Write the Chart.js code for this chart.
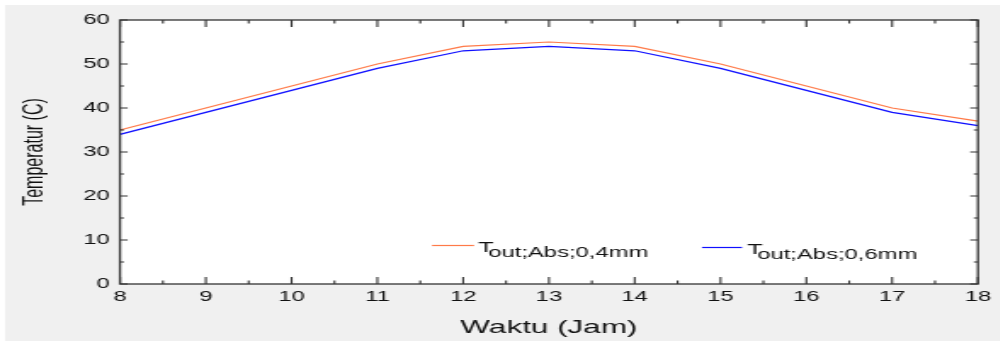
<!DOCTYPE html>
<html>
<head>
<meta charset="utf-8">
<script src="https://cdn.jsdelivr.net/npm/chart.js@4.4.1/dist/chart.umd.min.js"></script>
<style>
  html, body { margin: 0; padding: 0; background: #ffffff; overflow: hidden; }
  #wrap { position: absolute; left: 0; top: 0; transform-origin: 0 0; }
</style>
</head>
<body>
<div id="wrap"><canvas id="c"></canvas></div>
<script>
// ---- data ----
const hours = [8, 9, 10, 11, 12, 13, 14, 15, 16, 17, 18];
const tAbs04 = [35, 40, 45, 50, 54, 55, 54, 50, 45, 40, 37];
const tAbs06 = [34, 39, 44, 49, 53, 54, 53, 49, 44, 39, 36];
const yTicks = [0, 10, 20, 30, 40, 50, 60];
const xTicks = [8, 9, 10, 11, 12, 13, 14, 15, 16, 17, 18];
const seriesNames = ['out;Abs;0,4mm', 'out;Abs;0,6mm'];

// the reference is horizontally stretched; draw narrow and stretch
const S = 1.7;
const H = 343;
const W = 1000 / S;

const wrap = document.getElementById('wrap');
wrap.style.transform = 'scaleX(' + S + ')';
const canvas = document.getElementById('c');
canvas.style.width = W + 'px';
canvas.style.height = H + 'px';

const FONT = "'Liberation Sans', Arial, sans-serif";
const INK = '#111111';

const bgPlugin = {
  id: 'bg',
  beforeDraw(chart) {
    const ctx = chart.ctx;
    const a = chart.chartArea;
    ctx.save();
    ctx.fillStyle = '#ffffff';
    ctx.fillRect(0, 0, W, H);
    ctx.fillStyle = '#f0f0f0';
    ctx.fillRect(5 / S, 5, W, 336);
    ctx.fillStyle = '#ffffff';
    ctx.fillRect(a.left, a.top, a.right - a.left, a.bottom - a.top);
    ctx.restore();
  }
};

const framePlugin = {
  id: 'frame',
  afterDraw(chart) {
    const ctx = chart.ctx;
    const a = chart.chartArea;
    const xs = chart.scales.x, ys = chart.scales.y;
    ctx.save();
    ctx.strokeStyle = '#333333';
    ctx.lineWidth = 1.1;
    const xt = xs.ticks.map(t => t.value);
    for (let i = 0; i < xt.length; i++) {
      const marks = [[xt[i], 7]];
      if (i < xt.length - 1) marks.push([(xt[i] + xt[i + 1]) / 2, 3.5]);
      for (const [v, len] of marks) {
        const px = xs.getPixelForValue(v);
        ctx.beginPath();
        ctx.moveTo(px, a.bottom); ctx.lineTo(px, a.bottom - len);
        ctx.moveTo(px, a.top); ctx.lineTo(px, a.top + len);
        ctx.stroke();
      }
    }
    const yt = ys.ticks.map(t => t.value);
    for (let i = 0; i < yt.length; i++) {
      const marks = [[yt[i], 4.5]];
      if (i < yt.length - 1) marks.push([(yt[i] + yt[i + 1]) / 2, 2.4]);
      for (const [v, len] of marks) {
        const py = ys.getPixelForValue(v);
        ctx.beginPath();
        ctx.moveTo(a.left, py); ctx.lineTo(a.left + len, py);
        ctx.moveTo(a.right, py); ctx.lineTo(a.right - len, py);
        ctx.stroke();
      }
    }
    ctx.lineWidth = 1.3;
    ctx.strokeRect(a.left, a.top, a.right - a.left, a.bottom - a.top);
    ctx.restore();
  }
};

const legendPlugin = {
  id: 'subLegend',
  afterDatasetsDraw(chart) {
    const ctx = chart.ctx;
    const entries = [
      { x1: 432 / S, x2: 474 / S, ly: 245.5, tx: 478 / S, base: 252, ds: 0 },
      { x1: 702 / S, x2: 742 / S, ly: 247.5, tx: 747 / S, base: 254, ds: 1 }
    ];
    ctx.save();
    for (const e of entries) {
      const ds = chart.data.datasets[e.ds];
      ctx.strokeStyle = ds.borderColor;
      ctx.lineWidth = 1.2;
      ctx.beginPath();
      ctx.moveTo(e.x1, e.ly); ctx.lineTo(e.x2, e.ly);
      ctx.stroke();
      ctx.fillStyle = INK;
      ctx.textBaseline = 'alphabetic';
      ctx.textAlign = 'left';
      ctx.font = '15px ' + FONT;
      ctx.fillText('T', e.tx, e.base);
      ctx.font = '14px ' + FONT;
      ctx.fillText(seriesNames[e.ds], e.tx + 6, e.base + 5);
    }
    ctx.restore();
  }
};

new Chart(canvas, {
  type: 'line',
  data: {
    labels: hours,
    datasets: [
      { label: 'T out;Abs;0,4mm', data: hours.map((h, i) => ({ x: h, y: tAbs04[i] })),
        borderColor: '#ff7a48', borderWidth: 1.2, pointRadius: 0, tension: 0, fill: false },
      { label: 'T out;Abs;0,6mm', data: hours.map((h, i) => ({ x: h, y: tAbs06[i] })),
        borderColor: '#1010ff', borderWidth: 1.2, pointRadius: 0, tension: 0, fill: false }
    ]
  },
  options: {
    responsive: false,
    maintainAspectRatio: false,
    animation: false,
    devicePixelRatio: 1,
    layout: { padding: { left: 0, right: (1000 - 985) / S, top: 20, bottom: 0 } },
    plugins: { legend: { display: false }, tooltip: { enabled: false } },
    scales: {
      x: {
        type: 'linear', min: 8, max: 18,
        afterBuildTicks: s => { s.ticks = xTicks.map(v => ({ value: v })); },
        afterFit: s => { s.height = H - 284; },
        grid: { display: false, drawTicks: false },
        border: { display: false },
        ticks: { padding: 5, color: INK, font: { family: FONT, size: 14 }, maxRotation: 0, autoSkip: false },
        title: { display: true, text: 'Waktu (Jam)', color: INK, font: { family: FONT, size: 18.5 }, padding: { top: 0, bottom: 4 } }
      },
      y: {
        min: 0, max: 60,
        afterBuildTicks: s => { s.ticks = yTicks.map(v => ({ value: v })); },
        afterFit: s => { s.width = 120 / S; },
        grid: { display: false, drawTicks: false },
        border: { display: false },
        ticks: { padding: 6, color: INK, font: { family: FONT, size: 14 } },
        title: { display: true, text: 'Temperatur (C)', color: INK, font: { family: FONT, size: 16 }, padding: { top: 11, bottom: 0 } }
      }
    }
  },
  plugins: [bgPlugin, framePlugin, legendPlugin]
});
</script>
</body>
</html>
